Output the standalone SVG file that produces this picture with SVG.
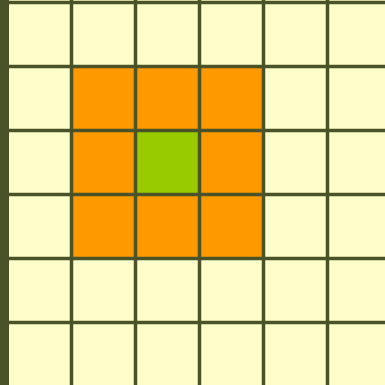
<svg xmlns="http://www.w3.org/2000/svg" width="385" height="385" viewBox="0 0 385 385">
<style>
.bg{fill:#FFFFCC}
.hi{fill:#FF9900}
.ctr{fill:#99CC00}
.ln{stroke:#4A5228;stroke-width:3.5;fill:none}
</style>
<rect class="bg" x="0" y="0" width="385" height="385"/>
<g id="cells">
<rect class="hi" x="71.5" y="66.5" width="192" height="192"/>
<rect class="ctr" x="135.5" y="130.5" width="64" height="64"/>
</g>
<g id="grid">
<rect x="0" y="0" width="9" height="385" fill="#4A5228"/>
<path class="ln" d="M0 2.5H385M0 66.5H385M0 130.5H385M0 194.5H385M0 258.5H385M0 322.5H385M71.5 0V385M135.5 0V385M199.5 0V385M263.5 0V385M327.5 0V385"/>
</g>
</svg>
